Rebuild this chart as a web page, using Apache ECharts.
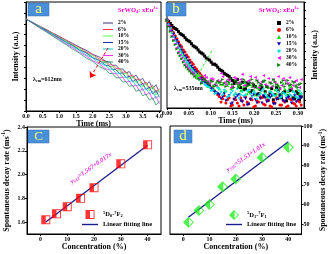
<!DOCTYPE html>
<html><head><meta charset="utf-8">
<script src="https://cdn.jsdelivr.net/npm/echarts@6/dist/echarts.min.js"></script>
<style>html,body{margin:0;padding:0;background:#fff}#c{width:328px;height:254px}</style>
</head><body><div id="c"></div>
<script>
// ---------- data ----------
const seriesLabels = ['2%','6%','10%','15%','20%','30%','40%'];
// panel a: decay curves (semi-log, arbitrary log-intensity units)
const timeA = [0,0.2,0.4,0.6,0.8,1.0,1.2,1.4,1.6,1.8,2.0,2.2,2.4,2.5,2.6,2.7,2.8,2.9,3.0,3.1,3.2,3.3,3.4,3.5,3.6,3.7,3.8,3.9,4.0];
const decayA2  = [8.44,8.13,7.79,7.49,7.15,6.85,6.51,6.21,5.87,5.58,5.20,4.95,4.55,4.50,4.18,4.20,3.85,3.86,3.48,3.62,3.05,3.30,2.78,3.00,2.40,2.70,2.05,2.40,1.70];
const decayA6  = [8.44,8.10,7.79,7.44,7.13,6.78,6.47,6.11,5.82,5.43,5.18,4.76,4.52,4.25,4.22,3.90,3.88,3.55,3.60,3.15,3.30,2.82,2.95,2.45,2.65,2.10,2.35,1.70,2.05];
const decayA10 = [8.44,8.09,7.77,7.41,7.09,6.72,6.41,6.04,5.74,5.33,5.08,4.64,4.40,4.08,4.10,3.72,3.78,3.35,3.50,2.95,3.20,2.60,2.85,2.20,2.55,1.85,2.25,1.45,1.95];
const decayA15 = [8.44,8.10,7.73,7.40,7.02,6.70,6.32,6.01,5.61,5.33,4.90,4.63,4.18,4.15,3.82,3.80,3.45,3.50,3.05,3.20,2.70,2.90,2.30,2.55,1.95,2.20,1.55,1.90,1.25];
const decayA20 = [8.44,8.07,7.72,7.34,7.00,6.62,6.28,5.89,5.56,5.15,4.86,4.40,4.15,3.85,3.82,3.45,3.48,3.08,3.15,2.70,2.80,2.30,2.45,1.90,2.10,1.55,1.80,1.15,1.50];
const decayA30 = [8.44,8.07,7.67,7.31,6.92,6.56,6.15,5.81,5.39,5.06,4.62,4.32,3.85,3.80,3.45,3.45,3.05,3.10,2.65,2.75,2.25,2.40,1.85,2.05,1.45,1.70,1.05,1.35,0.65];
const decayA40 = [8.44,8.05,7.66,7.26,6.88,6.47,6.10,5.68,5.32,4.88,4.55,4.08,3.78,3.45,3.42,3.05,3.05,2.65,2.70,2.25,2.35,1.80,1.95,1.40,1.55,1.00,1.20,0.55,0.90];
// panel b: decay points (linear intensity, a.u.)
const timeB = [0,0.00375,0.0075,0.01125,0.015,0.01875,0.0225,0.02625,0.03,0.03375,0.0375,0.04125,0.045,0.04875,0.0525,0.05625,0.06,0.06375,0.0675,0.07125,0.075,0.07875,0.0825,0.08625,0.09,0.09375,0.0975,0.10125,0.105,0.10875,0.1125,0.11625,0.12,0.12375,0.1275,0.13125,0.135,0.13875,0.1425,0.14625,0.15,0.15375,0.1575,0.16125,0.165,0.16875,0.1725,0.17625,0.18,0.18375,0.1875,0.19125,0.195,0.19875,0.2025,0.20625,0.21,0.21375,0.2175,0.22125,0.225,0.22875,0.2325,0.23625,0.24,0.24375,0.2475,0.25125,0.255,0.25875,0.2625,0.26625,0.27,0.27375,0.2775,0.28125,0.285,0.28875,0.2925,0.29625,0.30,0.30375,0.3075];
const decayB2  = [0.86,0.85,0.83,0.81,0.79,0.78,0.77,0.75,0.73,0.72,0.71,0.69,0.67,0.66,0.65,0.63,0.61,0.60,0.59,0.57,0.55,0.54,0.53,0.51,0.49,0.48,0.47,0.45,0.43,0.43,0.42,0.40,0.38,0.37,0.36,0.34,0.33,0.32,0.31,0.29,0.27,0.24,0.26,0.28,0.22,0.20,0.25,0.18,0.19,0.24,0.23,0.15,0.17,0.22,0.21,0.13,0.14,0.18,0.20,0.11,0.16,0.21,0.12,0.15,0.19,0.08,0.13,0.20,0.17,0.12,0.10,0.15,0.16,0.07,0.12,0.17,0.18,0.10,0.09,0.16,0.14,0.08,0.11];
const decayB6  = [0.86,0.83,0.80,0.77,0.74,0.71,0.68,0.65,0.62,0.60,0.57,0.55,0.52,0.50,0.47,0.45,0.43,0.40,0.38,0.36,0.34,0.32,0.30,0.28,0.26,0.24,0.22,0.20,0.18,0.17,0.15,0.13,0.11,0.06,0.09,0.12,0.05,0.08,0.10,0.02,0.03,0.09,0.08,0.05,0.02,0.10,0.07,0.03,0.11,0.06,0.04,0.09,0.08,0.01,0.02,0.07,0.06,0.11,0.10,0.04,0.03,0.08,0.07,0.02,0.01,0.06,0.05,0.10,0.09,0.03,0.03,0.07,0.06,0.01,0.02,0.09,0.08,0.05,0.04,0.02,0.07,0.06,0.03];
const decayB10 = [0.86,0.82,0.78,0.74,0.71,0.67,0.64,0.61,0.58,0.55,0.52,0.49,0.47,0.44,0.42,0.40,0.38,0.36,0.34,0.32,0.31,0.29,0.28,0.27,0.26,0.21,0.24,0.27,0.22,0.18,0.25,0.21,0.19,0.26,0.23,0.16,0.17,0.22,0.24,0.19,0.20,0.13,0.15,0.24,0.22,0.17,0.18,0.21,0.25,0.14,0.16,0.23,0.21,0.18,0.13,0.20,0.19,0.15,0.23,0.26,0.15,0.11,0.20,0.17,0.12,0.22,0.18,0.14,0.22,0.19,0.14,0.24,0.19,0.13,0.16,0.20,0.21,0.17,0.12,0.23,0.18,0.14,0.15];
const decayB15 = [0.86,0.82,0.79,0.75,0.72,0.69,0.66,0.63,0.60,0.57,0.54,0.51,0.49,0.46,0.44,0.41,0.39,0.37,0.35,0.33,0.31,0.29,0.27,0.25,0.24,0.22,0.21,0.19,0.18,0.16,0.15,0.14,0.13,0.09,0.11,0.14,0.07,0.10,0.12,0.04,0.05,0.08,0.10,0.12,0.13,0.07,0.06,0.11,0.09,0.03,0.04,0.08,0.11,0.13,0.08,0.05,0.13,0.09,0.05,0.12,0.10,0.06,0.07,0.10,0.12,0.04,0.04,0.08,0.09,0.13,0.11,0.07,0.06,0.09,0.10,0.12,0.05,0.08,0.12,0.06,0.08,0.11,0.10];
const decayB20 = [0.86,0.82,0.78,0.74,0.70,0.66,0.63,0.59,0.56,0.53,0.50,0.47,0.45,0.42,0.40,0.38,0.36,0.34,0.32,0.30,0.28,0.26,0.25,0.23,0.22,0.21,0.20,0.17,0.18,0.14,0.15,0.20,0.19,0.16,0.13,0.18,0.16,0.11,0.12,0.15,0.17,0.13,0.14,0.19,0.10,0.13,0.16,0.12,0.13,0.17,0.18,0.14,0.11,0.16,0.15,0.09,0.12,0.14,0.17,0.19,0.14,0.12,0.10,0.16,0.15,0.13,0.12,0.18,0.16,0.10,0.11,0.15,0.14,0.12,0.17,0.13,0.12,0.16,0.15,0.11,0.10,0.17,0.14];
const decayB30 = [0.86,0.81,0.76,0.71,0.67,0.63,0.59,0.55,0.52,0.49,0.46,0.43,0.41,0.39,0.37,0.35,0.34,0.32,0.31,0.30,0.29,0.25,0.27,0.32,0.30,0.26,0.24,0.29,0.28,0.23,0.22,0.27,0.26,0.34,0.31,0.25,0.23,0.28,0.27,0.20,0.21,0.30,0.29,0.24,0.25,0.28,0.33,0.22,0.22,0.26,0.27,0.31,0.24,0.20,0.30,0.27,0.20,0.24,0.26,0.32,0.23,0.21,0.29,0.25,0.21,0.28,0.25,0.23,0.31,0.19,0.22,0.29,0.27,0.24,0.24,0.30,0.19,0.22,0.26,0.27,0.23,0.20,0.28];
const decayB40 = [0.86,0.80,0.75,0.70,0.66,0.62,0.58,0.54,0.51,0.48,0.45,0.42,0.40,0.38,0.36,0.34,0.33,0.31,0.30,0.29,0.28,0.24,0.26,0.29,0.27,0.25,0.23,0.27,0.26,0.21,0.22,0.26,0.25,0.23,0.28,0.24,0.21,0.26,0.25,0.29,0.23,0.20,0.27,0.25,0.20,0.23,0.24,0.28,0.26,0.21,0.22,0.25,0.28,0.24,0.21,0.27,0.25,0.22,0.23,0.26,0.27,0.21,0.20,0.25,0.24,0.28,0.26,0.23,0.22,0.20,0.25,0.27,0.21,0.24,0.27,0.22,0.23,0.26,0.25,0.21,0.20,0.23,0.24];
// panels c, d: spontaneous decay rates
const concentration = [2,6,10,15,20,30,40];
const rate612 = [1.62,1.67,1.73,1.80,1.89,2.09,2.25];
const rate535 = [51,57,60,69,73,84,89];
const fitConc = [2,40];
const fit612 = [1.601,2.247];
const fit535 = [53.55,91.93];
// ticks
const ticksTimeA = [0,0.5,1.0,1.5,2.0,2.5,3.0,3.5,4.0];
const ticksTimeB = [0,0.05,0.10,0.15,0.20,0.25,0.30];
const ticksIntA = [0,1,2,3,4,5,6,7,8,9,10];
const ticksIntB = [0,0.08,0.16,0.24,0.32,0.40,0.48,0.56,0.64,0.72,0.80,0.88,0.96,1.04];
const ticksConc = [0,10,20,30,40];
const ticks612 = [1.6,1.8,2.0,2.2,2.4];
const ticks535 = [50,60,70,80,90,100];

// ---------- styling ----------
const serif = '"Liberation Serif","Times New Roman",serif';
const colorsA = ['#3a2f7a','#ff3355','#44ff44','#2233aa','#00cccc','#ff33ff','#229966'];
const colorsB = ['#000000','#ff0000','#00e000','#0000bb','#00e5e5','#ff00ff','#008000'];
const symbolsB = ['rect','circle','triangle','path://M0,0L10,0L5,9Z','diamond','path://M9,0L9,10L0,5Z','path://M0,0L9,5L0,10Z'];
const halfSquare = 'path://M0,0L10,0L10,10L0,10ZM5,1L5,9L9,9L9,1Z';
const halfDiamond = 'path://M5,0L10,5L5,10L0,5ZM5.6,1.87L5.6,8.13L8.73,5Z';
const lineIconA = 'path://M0,0L10,0L10,1L0,1Z';
const lineIconCD = 'path://M0,0L16,0L16,1.4L0,1.4Z';
const decaysA = [decayA2,decayA6,decayA10,decayA15,decayA20,decayA30,decayA40];
const decaysB = [decayB2,decayB6,decayB10,decayB15,decayB20,decayB30,decayB40];

const nameStyle = {fontFamily:serif,fontWeight:'bold',fontSize:8,color:'#000',
  rich:{s:{fontFamily:serif,fontWeight:'bold',fontSize:5.5,color:'#000',padding:[0,0,5,0]}}};
function valAxis(o){
  return Object.assign({
    type:'value',
    axisLine:{show:true,onZero:false,lineStyle:{color:'#000',width:1}},
    axisTick:{show:true,length:2,lineStyle:{color:'#000',width:1},customValues:o.ticks},
    axisLabel:{show:o.labels!==false,fontFamily:serif,fontWeight:'bold',fontSize:6,color:'#000',margin:2,
      customValues:o.ticks,formatter:o.fmt},
    splitLine:{show:false},
    nameLocation:'middle',nameTextStyle:nameStyle
  }, o.extra);
}

const series = [];
seriesLabels.forEach((lab,i)=>{
  series.push({name:'a'+lab,type:'line',xAxisIndex:0,yAxisIndex:0,showSymbol:false,symbol:'none',
    data:timeA.map((t,j)=>[t,decaysA[i][j]]),lineStyle:{width:0.8,color:colorsA[i]},itemStyle:{color:colorsA[i]},
    clip:true,silent:true});
});
seriesLabels.forEach((lab,i)=>{
  series.push({name:'b'+lab,type:'scatter',xAxisIndex:1,yAxisIndex:1,symbol:symbolsB[i],symbolSize:3,
    data:timeB.map((t,j)=>[t,decaysB[i][j]]),itemStyle:{color:colorsB[i],opacity:1},silent:true});
});
// arrows
series[6].markLine = {silent:true,symbol:['none','arrow'],symbolSize:6,label:{show:false},
  lineStyle:{color:'#ff0000',type:[3,2],width:1},data:[[{coord:[2.46,5.78]},{coord:[1.92,3.03]}]],animation:false};
series[13].markLine = {silent:true,symbol:['none','arrow'],symbolSize:6,label:{show:false},
  lineStyle:{color:'#33ee33',type:[3,2],width:1},data:[[{coord:[0.103,0.56]},{coord:[0.066,0.29]}]],animation:false};

series.push({name:'cFit',type:'line',xAxisIndex:2,yAxisIndex:2,symbol:'none',
  data:fitConc.map((c,i)=>[c,fit612[i]]),lineStyle:{color:'#1a1a8c',width:1.3},itemStyle:{color:'#1a1a8c'},z:1});
series.push({name:'cPts',type:'scatter',xAxisIndex:2,yAxisIndex:2,symbol:halfSquare,symbolSize:9,
  data:concentration.map((c,i)=>[c,rate612[i]]),itemStyle:{color:'#ff0000'},z:3});
series.push({name:'dFit',type:'line',xAxisIndex:3,yAxisIndex:3,symbol:'none',
  data:fitConc.map((c,i)=>[c,fit535[i]]),lineStyle:{color:'#1a1a8c',width:1.3},itemStyle:{color:'#1a1a8c'},z:1});
series.push({name:'dPts',type:'scatter',xAxisIndex:3,yAxisIndex:3,symbol:halfDiamond,symbolSize:11,
  data:concentration.map((c,i)=>[c,rate535[i]]),itemStyle:{color:'#22ee22'},z:3});

const legText = {fontFamily:serif,fontWeight:'bold',fontSize:5.5,color:'#000',lineHeight:6};
const legTextCD = {fontFamily:serif,fontWeight:'bold',fontSize:6.5,color:'#000',
  rich:{s:{fontFamily:serif,fontWeight:'bold',fontSize:4.5,color:'#000',padding:[0,0,4,0]},
        b:{fontFamily:serif,fontWeight:'bold',fontSize:4.5,color:'#000',padding:[3,0,0,0]}}};

const titleRich = {
  t:{fontFamily:serif,fontWeight:'bold',fontSize:6.5,fill:'#ff00cc'},
  b:{fontFamily:serif,fontWeight:'bold',fontSize:4.5,fill:'#ff00cc',padding:[3,0,0,0]},
  s:{fontFamily:serif,fontWeight:'bold',fontSize:4.5,fill:'#ff00cc',padding:[0,0,4,0]}
};
const lamRich = {
  t:{fontFamily:serif,fontWeight:'bold',fontSize:6,fill:'#000'},
  b:{fontFamily:serif,fontWeight:'bold',fontSize:4,fill:'#000',padding:[3,0,0,0]}
};
const fitRich = {
  t:{fontFamily:serif,fontWeight:'bold',fontStyle:'italic',fontSize:6.5,fill:'#e033e0'},
  b:{fontFamily:serif,fontWeight:'bold',fontStyle:'italic',fontSize:4.5,fill:'#e033e0',padding:[3,0,0,0]}
};
function panelLabel(x,y,w,h,ch,fs){
  return [
    {type:'rect',shape:{x:x,y:y,width:w,height:h},style:{fill:'#4a90d8',stroke:'#2f6fb5',lineWidth:0.5},z:100},
    {type:'text',x:x+w/2,y:y+h/2,style:{text:ch,fill:'#ffff70',font:fs+'px '+serif,align:'center',verticalAlign:'middle'},z:101}
  ];
}

const option = {
  animation:false,
  backgroundColor:'#fff',
  grid:[
    {left:26,top:2,width:135,height:109,show:true,borderColor:'#000',borderWidth:1,backgroundColor:'transparent'},
    {left:167,top:2,width:137,height:106,show:true,borderColor:'#000',borderWidth:1,backgroundColor:'transparent'},
    {left:27,top:127,width:134,height:107,show:true,borderColor:'#000',borderWidth:1,backgroundColor:'transparent'},
    {left:170,top:126,width:132,height:108,show:true,borderColor:'#000',borderWidth:1,backgroundColor:'transparent'}
  ],
  xAxis:[
    valAxis({ticks:ticksTimeA,fmt:v=>v.toFixed(1),extra:{gridIndex:0,min:0,max:4.05,name:'Time (ms)',nameGap:8}}),
    valAxis({ticks:ticksTimeB,fmt:v=>v.toFixed(2),extra:{gridIndex:1,min:0,max:0.314,name:'Time (ms)',nameGap:8}}),
    valAxis({ticks:ticksConc,fmt:v=>String(v),extra:{gridIndex:2,min:-5,max:45,name:'Concentration (%)',nameGap:9}}),
    valAxis({ticks:ticksConc,fmt:v=>String(v),extra:{gridIndex:3,min:-5,max:45,name:'Concentration (%)',nameGap:9}})
  ],
  yAxis:[
    valAxis({ticks:ticksIntA,labels:false,extra:{gridIndex:0,min:0,max:10,position:'left',name:'Intensity (a.u.)',nameGap:6,nameRotate:90}}),
    valAxis({ticks:ticksIntB,labels:false,extra:{gridIndex:1,min:0,max:1.04,position:'right',name:'Intensity (a.u.)',nameGap:7,nameRotate:90}}),
    valAxis({ticks:ticks612,fmt:v=>v.toFixed(1),extra:{gridIndex:2,min:1.5,max:2.4,position:'left',name:'Spontaneous decay rate (ms{s|-1})',nameGap:15,nameRotate:90}}),
    valAxis({ticks:ticks535,fmt:v=>String(v),extra:{gridIndex:3,min:45,max:100,position:'right',name:'Spontaneous decay rate (ms{s|-1})',nameGap:16,nameRotate:90}})
  ],
  legend:[
    {orient:'vertical',left:103,top:20,itemWidth:10,itemHeight:5,itemGap:0.5,padding:0,selectedMode:false,
     data:seriesLabels.map(l=>({name:'a'+l,icon:lineIconA})),formatter:n=>n.slice(1),textStyle:legText},
    {orient:'vertical',left:277,top:20,itemWidth:4,itemHeight:4,itemGap:1,padding:0,selectedMode:false,
     data:seriesLabels.map(l=>'b'+l),formatter:n=>n.slice(1),textStyle:legText},
    {orient:'vertical',left:82,top:210,itemWidth:16,itemHeight:9,itemGap:2,padding:0,selectedMode:false,
     data:['cPts',{name:'cFit',icon:lineIconCD}],formatter:n=>n==='cPts'?'{s|5}D{b|0}-{s|7}F{b|2}':'Linear fitting line',textStyle:legTextCD},
    {orient:'vertical',left:226,top:210,itemWidth:16,itemHeight:10,itemGap:1,padding:0,selectedMode:false,
     data:['dPts',{name:'dFit',icon:lineIconCD}],formatter:n=>n==='dPts'?'{s|5}D{b|1}-{s|7}F{b|1}':'Linear fitting line',textStyle:legTextCD}
  ],
  graphic:[].concat(
    panelLabel(28,3,21,13,'a',15),
    panelLabel(166,3,20,13,'b',15),
    panelLabel(28,130,21,13,'C',13),
    panelLabel(174,130,18,13,'d',15),
    [
      {type:'text',x:118,y:10,z:100,style:{text:'{t|SrWO}{b|4}{t|: xEu}{s|3+}',rich:titleRich,verticalAlign:'middle'}},
      {type:'text',x:259,y:10,z:100,style:{text:'{t|SrWO}{b|4}{t|: xEu}{s|3+}',rich:titleRich,verticalAlign:'middle'}},
      {type:'text',x:33,y:79,z:100,style:{text:'{t|λ}{b|em}{t|=612nm}',rich:lamRich,verticalAlign:'middle'}},
      {type:'text',x:174,y:88,z:100,style:{text:'{t|λ}{b|em}{t|=535nm}',rich:lamRich,verticalAlign:'middle'}},
      {type:'text',x:91,y:168,rotation:0.61,z:100,style:{text:'{t|y}{b|612}{t|=1.567+0.017x}',rich:fitRich,align:'center',verticalAlign:'middle'}},
      {type:'text',x:246,y:157,rotation:0.61,z:100,style:{text:'{t|y}{b|535}{t|=51.53+1.01x}',rich:fitRich,align:'center',verticalAlign:'middle'}}
    ]
  ),
  series:series
};
const chart = echarts.init(document.getElementById('c'),null,{renderer:'canvas'});
chart.setOption(option);
</script></body></html>
